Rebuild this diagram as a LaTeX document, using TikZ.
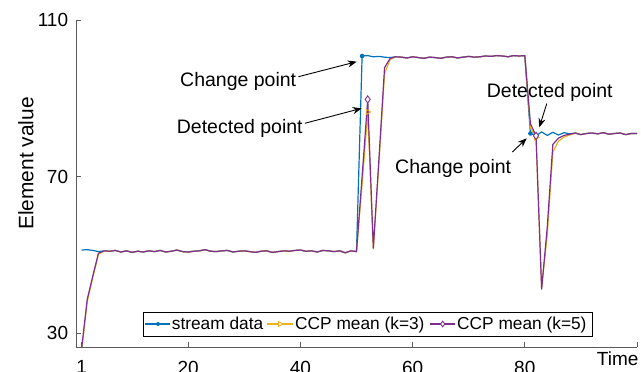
\documentclass[tikz,border=0pt]{standalone}
\usepackage{fontspec}
\setmainfont{Liberation Sans}
\usetikzlibrary{shapes.geometric,arrows.meta}
\definecolor{mblue}{RGB}{0,114,189}
\definecolor{morange}{RGB}{237,177,32}
\definecolor{mpurple}{RGB}{126,47,142}
\definecolor{axgray}{RGB}{90,90,90}

\def\segA{-- (5,51.0) -- (6,50.9) -- (7,51.1) -- (8,50.7) -- (9,51.0) -- (10,50.6) -- (11,50.9) -- (12,50.7) -- (13,51.0) -- (14,50.8) -- (15,51.1) -- (16,50.7) -- (17,50.9) -- (18,51.2) -- (19,50.8) -- (20,50.7) -- (21,50.9) -- (22,51.0) -- (23,51.3) -- (24,50.9) -- (25,50.8) -- (26,51.0) -- (27,51.1) -- (28,50.7) -- (29,50.9) -- (30,51.0) -- (31,50.8) -- (32,50.6) -- (33,50.9) -- (34,51.0) -- (35,50.6) -- (36,50.8) -- (37,51.0) -- (38,50.9) -- (39,51.1) -- (40,51.2) -- (41,50.9) -- (42,51.0) -- (43,50.7) -- (44,51.1) -- (45,51.0) -- (46,50.8) -- (47,51.0) -- (48,50.5) -- (49,51.0) -- (50,50.8)}
\def\segB{-- (57,100.6) -- (58,100.5) -- (59,100.3) -- (60,100.6) -- (61,100.4) -- (62,100.2) -- (63,100.5) -- (64,100.4) -- (65,100.2) -- (66,100.5) -- (67,100.6) -- (68,100.3) -- (69,100.5) -- (70,100.7) -- (71,100.5) -- (72,100.6) -- (73,100.8) -- (74,100.7) -- (75,100.9) -- (76,100.8) -- (77,100.6) -- (78,100.9) -- (79,100.8) -- (80,100.9)}
\def\segC{-- (89,81.1) -- (90,80.7) -- (91,81.0) -- (92,81.1) -- (93,80.9) -- (94,81.2) -- (95,80.8) -- (96,81.0) -- (97,81.1) -- (98,80.7) -- (99,81.0) -- (100,81.0)}

\begin{document}
\begin{tikzpicture}[x=1pt,y=1pt,
  ticklbl/.style={font=\fontsize{19}{22}\selectfont, inner sep=0pt},
  annot/.style={font=\fontsize{19.5}{23}\selectfont, inner sep=0pt},
  leglbl/.style={font=\fontsize{17.3}{20}\selectfont, inner sep=0pt, anchor=base west},
  axisline/.style={draw=axgray, line width=0.9pt},
  bline/.style={draw=mblue, line width=1.2pt, line join=round},
  oline/.style={draw=morange, line width=1.2pt, line join=round},
  pline/.style={draw=mpurple, line width=1.2pt, line join=round},
  bdot/.style={circle, fill=mblue, inner sep=0pt, minimum size=4.6pt},
  otri/.style={regular polygon, regular polygon sides=3, shape border rotate=-90, draw=morange, line width=0.8pt, inner sep=0pt, minimum size=6pt},
  pdia/.style={diamond, draw=mpurple, fill=white, line width=0.9pt, inner sep=0pt, minimum width=5.5pt, minimum height=7.5pt},
  arr/.style={-{Stealth[length=9pt,width=7pt]}, line width=0.9pt, black}
]
\useasboundingbox (0,0) rectangle (641,372);

\begin{scope}[shift={(76,-78.375)}, x=5.61pt, y=3.9125pt]
  \begin{scope}
    \clip (0,26.4) rectangle (100,111);
    \draw[bline] (1,51.2) -- (2,51.3) -- (3,51.1) -- (4,50.8) \segA -- (51,100.8) -- (52,100.9) -- (53,100.6) -- (54,100.7) -- (55,100.5) -- (56,100.4) \segB -- (81,81.0) -- (82,80.4) -- (83,81.4) -- (84,80.5) -- (85,81.3) -- (86,80.6) -- (87,81.2) -- (88,80.9) \segC;
    \draw[oline] (1,25.5) -- (2,38) -- (3,44.2) -- (4,50.1) \segA -- (51,68) -- (52,86.5) -- (53,51.5) -- (54,73.5) -- (55,96.3) -- (56,99.9) \segB -- (81,82.5) -- (82,80.0) -- (83,41.6) -- (84,55) -- (85,76.3) -- (86,79.0) -- (87,80.1) -- (88,80.6) \segC;
    \draw[pline] (1,26) -- (2,38.6) -- (3,44.6) -- (4,50.4) \segA -- (51,70) -- (52,89.7) -- (53,51.7) -- (54,74.5) -- (55,97.8) -- (56,100.2) \segB -- (81,83.5) -- (82,80.4) -- (83,41.2) -- (84,57) -- (85,78.2) -- (86,79.8) -- (87,80.5) -- (88,80.8) \segC;
  \end{scope}
  % markers
  \node[bdot] (mb1) at (51,100.8) {};
  \node[bdot] (mb2) at (81,81.0) {};
  \node[otri] (mo1) at (52,86.5) {};
  \node[otri] (mo2) at (82,80.0) {};
  \node[pdia] (mp1) at (52,89.7) {};
  \node[pdia] (mp2) at (82,80.4) {};
  % axes
  \coordinate (ax0) at (0,26.4);
  \coordinate (axtop) at (0,110);
  \coordinate (axright) at (100,26.4);
  \draw[axisline] (axtop) -- (ax0) -- (axright);
  \foreach \v in {30,70,110} \draw[axisline] (0,\v) -- ++(5pt,0);
  \foreach \u in {1,20,40,60,80,100} \draw[axisline] (\u,26.4) -- ++(0,5pt);
  \node[ticklbl, anchor=east] (y110) at ([xshift=-7.7pt]0,110) {110};
  \node[ticklbl, anchor=east] (y70) at ([xshift=-7.7pt]0,70) {70};
  \node[ticklbl, anchor=east] (y30) at ([xshift=-7.7pt]0,30) {30};
  \node[ticklbl, anchor=north] (x1) at ([yshift=-13.5pt]1,26.4) {1};
  \node[ticklbl, anchor=north] (x20) at ([yshift=-13.5pt]20,26.4) {20};
  \node[ticklbl, anchor=north] (x40) at ([yshift=-13.5pt]40,26.4) {40};
  \node[ticklbl, anchor=north] (x60) at ([yshift=-13.5pt]60,26.4) {60};
  \node[ticklbl, anchor=north] (x80) at ([yshift=-13.5pt]80,26.4) {80};
\end{scope}

\node[font=\fontsize{20.9}{24}\selectfont, inner sep=0pt, rotate=90, anchor=base] (ylab) at (33.3,208.5) {Element value};
\node[ticklbl, anchor=base west] (xlab) at (596.7,6) {Time};

% legend
\node[draw=black, line width=0.8pt, fill=white, minimum width=449pt, minimum height=24pt, inner sep=0pt] (leg) at (367.5,48) {};
\coordinate (lb1) at (145,48); \coordinate (lb2) at (170,48);
\draw[bline] (lb1) -- (lb2);
\node[bdot, minimum size=4pt] (lbm) at (158,48) {};
\node[leglbl] (tb) at (171.7,42.3) {stream data};
\coordinate (lo1) at (266.7,48); \coordinate (lo2) at (293.3,48);
\draw[oline] (lo1) -- (lo2);
\node[otri, minimum size=5.5pt, fill=white] (lom) at (280,48) {};
\node[leglbl] (to) at (295,42.3) {CCP mean (k=3)};
\coordinate (lp1) at (430,48); \coordinate (lp2) at (455,48);
\draw[pline] (lp1) -- (lp2);
\node[pdia, minimum width=4.5pt, minimum height=6pt] (lpm) at (442.7,48) {};
\node[leglbl] (tp) at (457,42.3) {CCP mean (k=5)};

% annotations
\node[annot, anchor=base west] (cp1) at (180,285.3) {Change point};
\coordinate (t1) at (356.7,310.3);
\draw[arr] ([shift={(2,10)}]cp1.base east) -- (t1);
\node[annot, anchor=base west] (dp1) at (176.7,238.7) {Detected point};
\coordinate (t2) at (361.7,263.7);
\draw[arr] ([shift={(2,10)}]dp1.base east) -- (t2);
\node[annot, anchor=base west] (dp2) at (486.7,274.7) {Detected point};
\coordinate (t3) at (539.3,244.7);
\draw[arr] ([shift={(-3,-2)}]dp2.south) -- (t3);
\node[annot, anchor=base west] (cp2) at (395,198.7) {Change point};
\coordinate (t4) at (526.7,233.7);
\draw[arr] ([shift={(1,7)}]cp2.north east) -- (t4);
\end{tikzpicture}
\end{document}
